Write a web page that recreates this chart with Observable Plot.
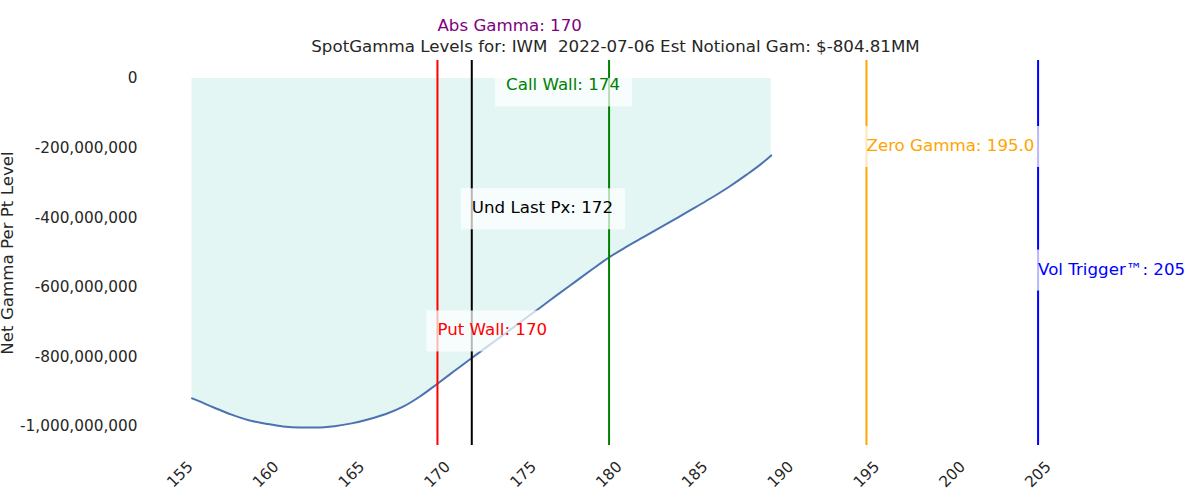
<!DOCTYPE html>
<html>
<head>
<meta charset="utf-8">
<script src="https://cdn.jsdelivr.net/npm/d3@7"></script>
<script src="https://cdn.jsdelivr.net/npm/@observablehq/plot@0.6"></script>
<style>
  body { margin: 0; background: #fff; }
  svg text { white-space: pre; }
</style>
</head>
<body>
<div id="chart"></div>
<script>
// ---- data ----
const strikes = [155.7,156,157,158,159,160,161,162,163,164,165,166,167,168,169,170,171,172,173,174,175,176,177,178,179,180,181,182,183,184,185,186,187,188,189,189.45];
const netGammaMM = [-919,-925,-946,-966,-982,-992,-1000,-1003,-1003,-999,-991,-979,-964,-943,-913,-877,-840,-803,-767,-731,-694,-658,-621,-585,-549,-514,-484,-456,-428,-400,-371,-342,-311,-277,-240,-221];

const levelNames = ["Put Wall", "Und Last Px", "Call Wall", "Zero Gamma", "Vol Trigger"];
const levelValues = [170, 172, 180, 195, 205];
const levelTexts = ["Put Wall: 170", "Und Last Px: 172", "Call Wall: 174", "Zero Gamma: 195.0", "Vol Trigger™: 205"];
const labelX = [170, 172, 174, 195, 205];
const labelYMM = [-723, -372, -19, -193, -548];

const absGamma = 170;
const titleText = "SpotGamma Levels for: IWM  2022-07-06 Est Notional Gam: $-804.81MM";
const yLabel = "Net Gamma Per Pt Level";
const xTicks = [155, 160, 165, 170, 175, 180, 185, 190, 195, 200, 205];
const yTicksMM = [0, -200, -400, -600, -800, -1000];

// ---- styles ----
const levelColors = {"Put Wall": "red", "Und Last Px": "black", "Call Wall": "green", "Zero Gamma": "orange", "Vol Trigger": "blue"};
const textColor = "#262626";
const bigFont = 16.67;
const tickFont = 15.3;

// ---- build tables ----
const curve = strikes.map((s, i) => ({strike: s, gamma: netGammaMM[i] * 1e6}));
const levels = levelNames.map((n, i) => ({name: n, value: levelValues[i], text: levelTexts[i], lx: labelX[i], ly: labelYMM[i] * 1e6}));

const chart = Plot.plot({
  width: 1200,
  height: 500,
  marginTop: 60,
  marginBottom: 55,
  marginLeft: 149,
  marginRight: 119,
  style: {fontFamily: "DejaVu Sans, sans-serif", fontSize: tickFont + "px", color: textColor, background: "#fff", overflow: "visible"},
  x: {domain: [153.22, 207.53], axis: null},
  y: {domain: [-1.0546e9, 0.0517e9]},
  marks: [
    Plot.areaY(curve, {x: "strike", y1: 0, y2: "gamma", fill: "#e3f6f3", curve: "monotone-x"}),
    Plot.lineY(curve, {x: "strike", y: "gamma", stroke: "#4c72b0", strokeWidth: 2, curve: "monotone-x"}),
    Plot.ruleX(levels, {x: "value", stroke: d => levelColors[d.name], strokeWidth: 2}),
    Plot.text(levels, {x: "lx", y: "ly", text: "text", fill: d => levelColors[d.name], textAnchor: "start", lineAnchor: "middle", fontSize: bigFont}),
    Plot.axisY({ticks: yTicksMM.map(d => d * 1e6), tickSize: 0, tickPadding: 12, tickFormat: d => d.toLocaleString("en-US"), label: null}),
    Plot.text(xTicks, {x: d => d, text: d => String(d), frameAnchor: "bottom", dy: 29, rotate: -45, textAnchor: "middle", lineAnchor: "middle", fontSize: tickFont, fill: textColor}),
    Plot.text([yLabel], {frameAnchor: "left", dx: -142, rotate: -90, text: d => d, textAnchor: "middle", lineAnchor: "middle", fontSize: bigFont, fill: textColor}),
    Plot.text([titleText], {frameAnchor: "top", dy: -13.5, text: d => d, textAnchor: "middle", lineAnchor: "middle", fontSize: bigFont, fill: textColor}),
    Plot.text([absGamma], {x: d => d, frameAnchor: "top", dy: -35, text: d => `Abs Gamma: ${d}`, textAnchor: "start", lineAnchor: "middle", fontSize: bigFont, fill: "purple"})
  ]
});

document.getElementById("chart").append(chart);

// semi-transparent label boxes behind level labels (clipped at the zero line)
const y0 = chart.scale("y").apply(0);
const svgRect = chart.getBoundingClientRect();
const labelEls = Array.from(chart.querySelectorAll("text")).filter(t => levelTexts.includes(t.textContent));
if (labelEls.length) {
  const NS = "http://www.w3.org/2000/svg";
  const boxes = document.createElementNS(NS, "g");
  for (const t of labelEls) {
    const bb = t.getBoundingClientRect();
    const left = bb.left - svgRect.left;
    let top = bb.top - svgRect.top - 10;
    const bottom = bb.bottom - svgRect.top + 12;
    top = Math.max(top, y0);
    const r = document.createElementNS(NS, "rect");
    r.setAttribute("x", left - 11);
    r.setAttribute("y", top);
    r.setAttribute("width", bb.width + 23);
    r.setAttribute("height", bottom - top);
    r.setAttribute("fill", "#fff");
    r.setAttribute("fill-opacity", 0.72);
    boxes.append(r);
  }
  const grp = labelEls[0].closest("g");
  grp.parentNode.insertBefore(boxes, grp);
}
</script>
</body>
</html>
